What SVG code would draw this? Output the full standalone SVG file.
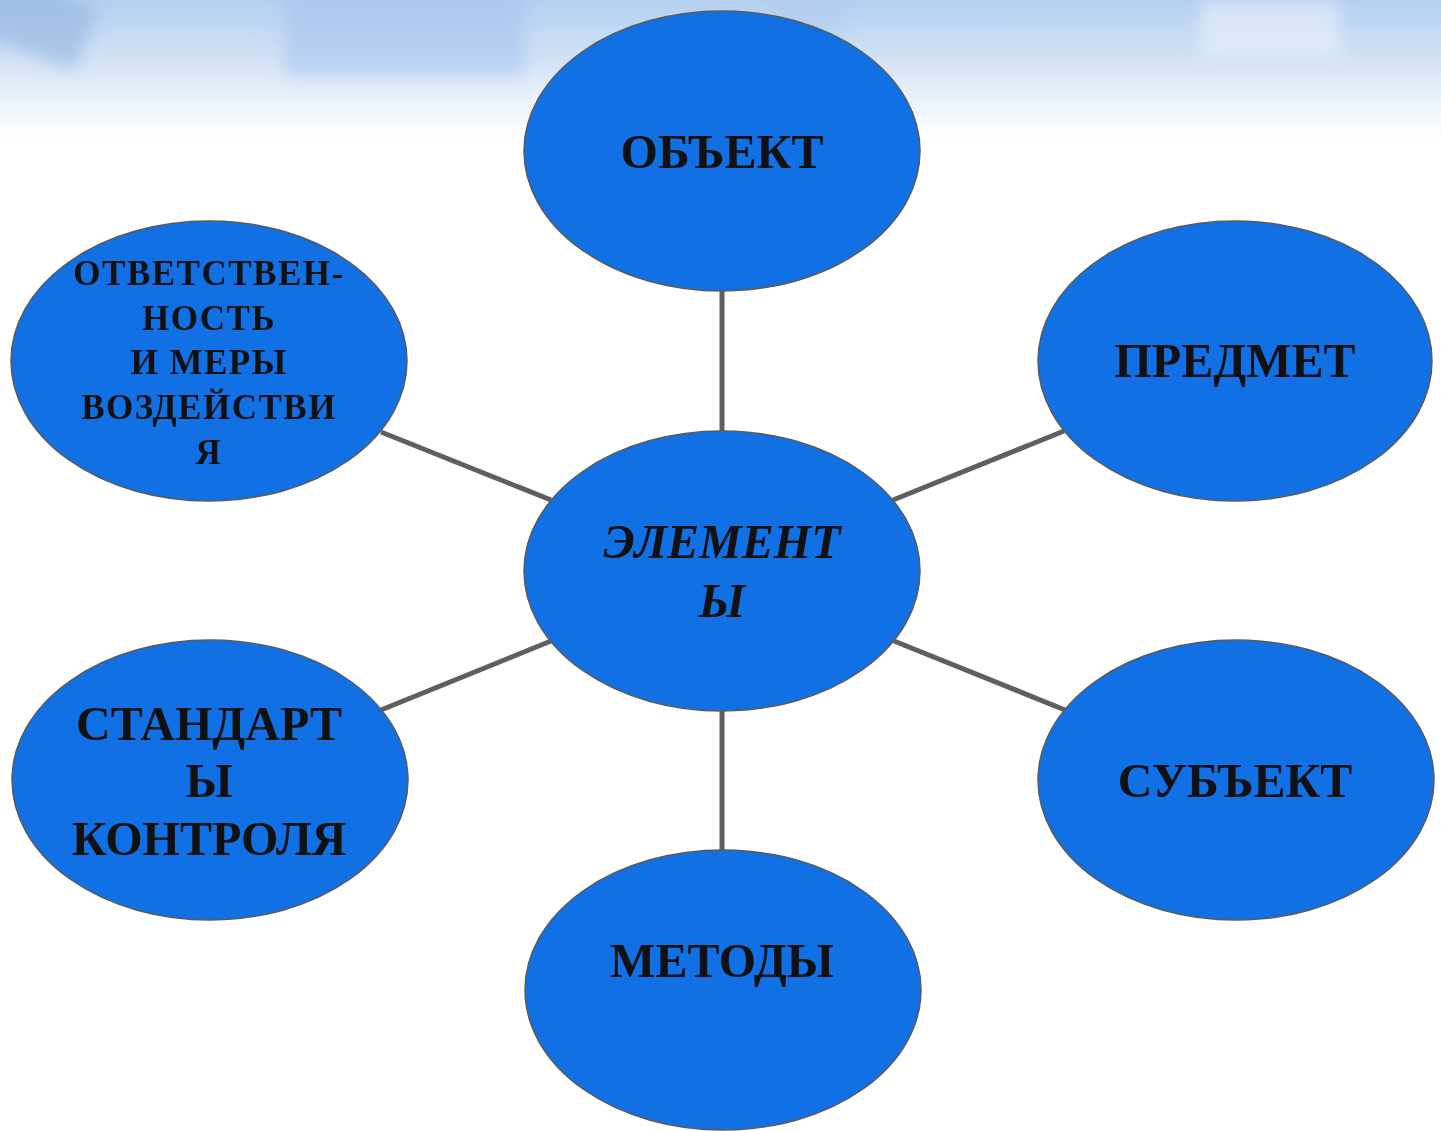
<svg xmlns="http://www.w3.org/2000/svg" width="1441" height="1131" viewBox="0 0 1441 1131">
<defs>
<linearGradient id="bg" x1="0" y1="0" x2="0" y2="1">
<stop offset="0" stop-color="#b3cff0"/>
<stop offset="0.5" stop-color="#d8e6f7"/>
<stop offset="0.85" stop-color="#f6f9fd"/>
<stop offset="1" stop-color="#ffffff"/>
</linearGradient>
<filter id="blur" x="-30%" y="-30%" width="160%" height="160%"><feGaussianBlur stdDeviation="8"/></filter>
<style>
.node ellipse{fill:#1170e3;stroke:#5a5a5a;stroke-width:1.5}
.t{font-family:"Liberation Serif","Times New Roman",serif;font-weight:bold;fill:#111;text-anchor:middle}
.big{font-size:48px}
.small{font-size:35px;letter-spacing:1.5px}
.it{font-style:italic}
#connectors line{stroke:#5f5f5f;stroke-width:5}
</style>
</defs>
<rect width="1441" height="1131" fill="#ffffff"/>
<g id="background">
<rect x="0" y="0" width="1441" height="140" fill="url(#bg)"/>
<g filter="url(#blur)" opacity="0.55">
<rect x="285" y="-10" width="240" height="85" fill="#a4c2ee"/>
<rect x="-20" y="-10" width="110" height="65" fill="#8eb0dc" transform="rotate(20 40 20)"/>
<rect x="1200" y="0" width="140" height="55" fill="#eef4fc"/>
<ellipse cx="810" cy="15" rx="35" ry="28" fill="#b2cbee"/>
</g>
</g>
<g id="connectors">
<line x1="722" y1="291" x2="722" y2="431"/>
<line x1="722" y1="711" x2="722" y2="850"/>
<line x1="381" y1="432" x2="551" y2="500"/>
<line x1="1064" y1="431" x2="893" y2="500"/>
<line x1="381" y1="710" x2="551" y2="641"/>
<line x1="1065" y1="710" x2="894" y2="641"/>
</g>
<g id="node-center" class="node">
<ellipse cx="722" cy="571" rx="198" ry="140"/>
<text class="t big it" x="722" y="558">ЭЛЕМЕНТ</text>
<text class="t big it" x="722" y="617">Ы</text>
</g>
<g id="node-object" class="node">
<ellipse cx="722" cy="151" rx="198" ry="140"/>
<text class="t big" x="722" y="168">ОБЪЕКТ</text>
</g>
<g id="node-subject-matter" class="node">
<ellipse cx="1235" cy="361" rx="197" ry="140"/>
<text class="t big" x="1235" y="377">ПРЕДМЕТ</text>
</g>
<g id="node-subject" class="node">
<ellipse cx="1236" cy="780" rx="198" ry="140"/>
<text class="t big" x="1235" y="797">СУБЪЕКТ</text>
</g>
<g id="node-methods" class="node">
<ellipse cx="723" cy="990" rx="198" ry="140"/>
<text class="t big" x="722" y="977">МЕТОДЫ</text>
</g>
<g id="node-standards" class="node">
<ellipse cx="210" cy="780" rx="198" ry="140"/>
<text class="t big" x="209" y="740">СТАНДАРТ</text>
<text class="t big" x="209" y="797">Ы</text>
<text class="t big" x="209" y="855">КОНТРОЛЯ</text>
</g>
<g id="node-responsibility" class="node">
<ellipse cx="209" cy="361" rx="198" ry="140"/>
<text class="t small" x="209" y="285">ОТВЕТСТВЕН-</text>
<text class="t small" x="209" y="330">НОСТЬ</text>
<text class="t small" x="209" y="374">И МЕРЫ</text>
<text class="t small" x="209" y="419">ВОЗДЕЙСТВИ</text>
<text class="t small" x="209" y="464">Я</text>
</g>
</svg>
